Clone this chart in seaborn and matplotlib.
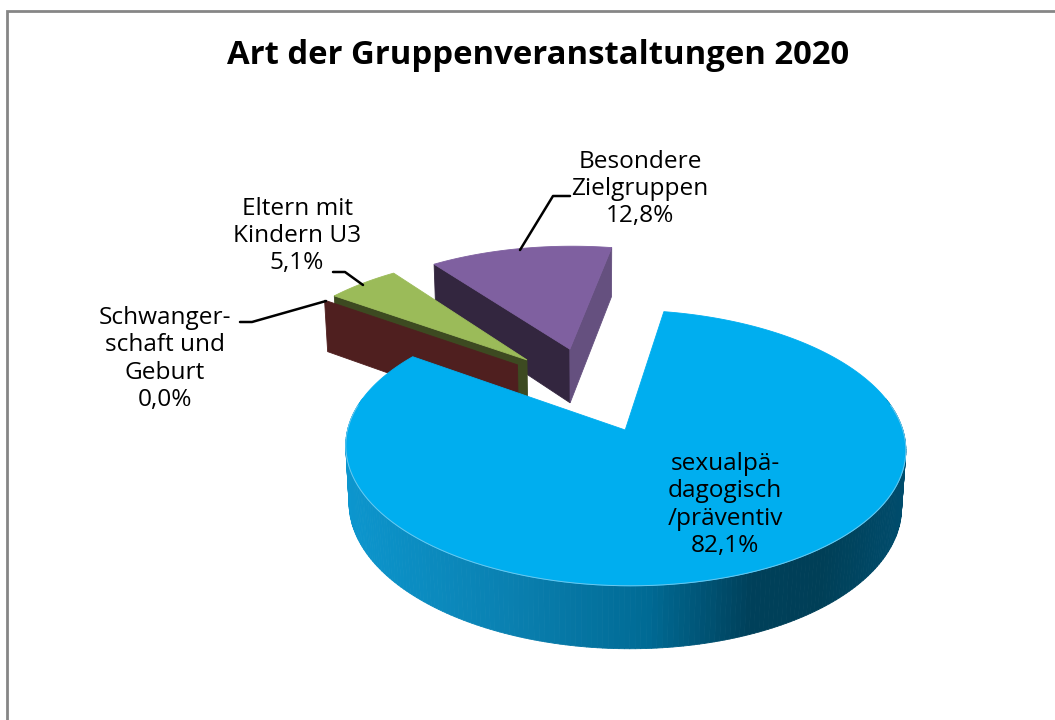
import numpy as np
import pandas as pd
import seaborn as sns
import matplotlib.pyplot as plt
from matplotlib.colors import LinearSegmentedColormap
from matplotlib.collections import PolyCollection

# chart values, clockwise from the first slice
categories = ["sexualpä-\ndagogisch\n/präventiv", "Schwanger-\nschaft und\nGeburt",
              "Eltern mit\nKindern U3", "Besondere\nZielgruppen"]
shares = [82.1, 0.0, 5.1, 12.8]
title = "Art der Gruppenveranstaltungen 2020"

df = pd.DataFrame({"category": categories, "share": shares})

sns.set_theme(style="white")
plt.rcParams["font.family"] = ["Open Sans", "DejaVu Sans"]

# pie look: top, near cut face, right cut face
tops = ["#00AEEF", "#4F1F1F", "#9BBB59", "#7F60A0"]
left_faces = [None, "#4F1F1F", "#3D4A21", "#33263F"]
right_faces = [None, None, None, "#65507F"]
rim_cmap = LinearSegmentedColormap.from_list("rim", [
    (0.0, "#0C96CE"), (0.3, "#0A80B0"), (0.55, "#006A94"),
    (0.73, "#00405A"), (0.86, "#003F57"), (1.0, "#004C6C")])

# projection of the tilted pie onto the 1055x720 canvas
START, EXPLODE = 10.0, 0.34
CX, CY, F, G, K, DEPTH, SHRINK = 589.5, 389.0, 266.7, 125.1, 0.1249, 56.0, 0.013


def project(x, y, low=False):
    d = 1 + K * y + (SHRINK if low else 0)
    return CX + F * x / d, CY + (-G * y + (DEPTH if low else 0)) / d


def cut_face(ax, ux, uy, ox, oy, color, zorder):
    x1, y1 = project(ux, uy)
    x2, y2 = project(ox, oy)
    x3, y3 = project(ox, oy, low=True)
    x4, y4 = project(ux, uy, low=True)
    ax.fill([x1, x2, x3, x4], [y1, y2, y3, y4], color=color, lw=0.6, zorder=zorder)


fig = plt.figure(figsize=(10.55, 7.2), dpi=100)
ax = fig.add_axes([0, 0, 1, 1])
ax.set_xlim(0, 1055)
ax.set_ylim(720, 0)
ax.axis("off")

# chart frame, only left and top show in the crop
ax.plot([7, 7, 1055], [720, 11, 11], color="#868686", lw=2.0, zorder=1, solid_joinstyle="miter")

# angles of every slice come from the shares
ends = START + np.cumsum(df["share"].values) * 3.6
starts = np.concatenate([[START], ends[:-1]])

# back to front
for i in [3, 2, 1, 0]:
    a0, a1 = np.radians(starts[i]), np.radians(ends[i])
    mid = (a0 + a1) / 2
    ox, oy = EXPLODE * np.sin(mid), EXPLODE * np.cos(mid)
    t = np.linspace(a0, a1, 300)
    ux, uy = ox + np.sin(t), oy + np.cos(t)
    base = 2 + (3 - i) * 2

    # cut faces
    if left_faces[i]:
        cut_face(ax, ux[0], uy[0], ox, oy, left_faces[i], base)
    if right_faces[i]:
        cut_face(ax, ux[-1], uy[-1], ox, oy, right_faces[i], base)

    # outer rim, only the big slice turns it to the viewer
    if i == 0:
        keep = np.cos(t) < 0.25
        rx, ry = ux[keep], uy[keep]
        tx, ty = project(rx, ry)
        bx, by = project(rx, ry, low=True)
        quads = [[(tx[j], ty[j]), (tx[j + 1], ty[j + 1]), (bx[j + 1], by[j + 1]), (bx[j], by[j])]
                 for j in range(len(rx) - 1)]
        colors = rim_cmap((tx[:-1] - 345) / 560)
        ax.add_collection(PolyCollection(quads, facecolors=colors, edgecolors=colors,
                                         linewidths=0.6, zorder=10))

    # top face
    tx, ty = project(np.r_[ox, ux], np.r_[oy, uy])
    if df["share"][i] > 0:
        ax.fill(tx, ty, color=tops[i], lw=0.6, zorder=11 if i == 0 else base + 1)
    if i == 0:
        keep = np.cos(t) < 0.2
        ex, ey = project(ux[keep], uy[keep])
        ax.plot(ex, ey, color="#6CC8EE", lw=0.7, zorder=12)

# leader lines
ax.plot([520, 553, 570], [250, 196, 196], color="black", lw=1.8, zorder=13)
ax.plot([333, 345, 363], [272, 272, 285], color="black", lw=1.8, zorder=13)
ax.plot([240, 252, 326], [322, 322, 301], color="black", lw=1.8, zorder=13)

# labels, German decimal comma
pct = [f"{v:.1f}%".replace(".", ",") for v in df["share"]]
label_pos = [(725, 505), (165, 359), (297, 236), (640, 189)]
for cat, p, (lx, ly) in zip(df["category"], pct, label_pos):
    ax.text(lx, ly, f"{cat}\n{p}", ha="center", va="center", fontsize=17.6, color="black",
            linespacing=1.18, zorder=14)

ax.text(538, 56, title, ha="center", va="center", fontsize=23.7, fontweight="bold", color="black", zorder=14)

fig.savefig("out.png", dpi=100)
